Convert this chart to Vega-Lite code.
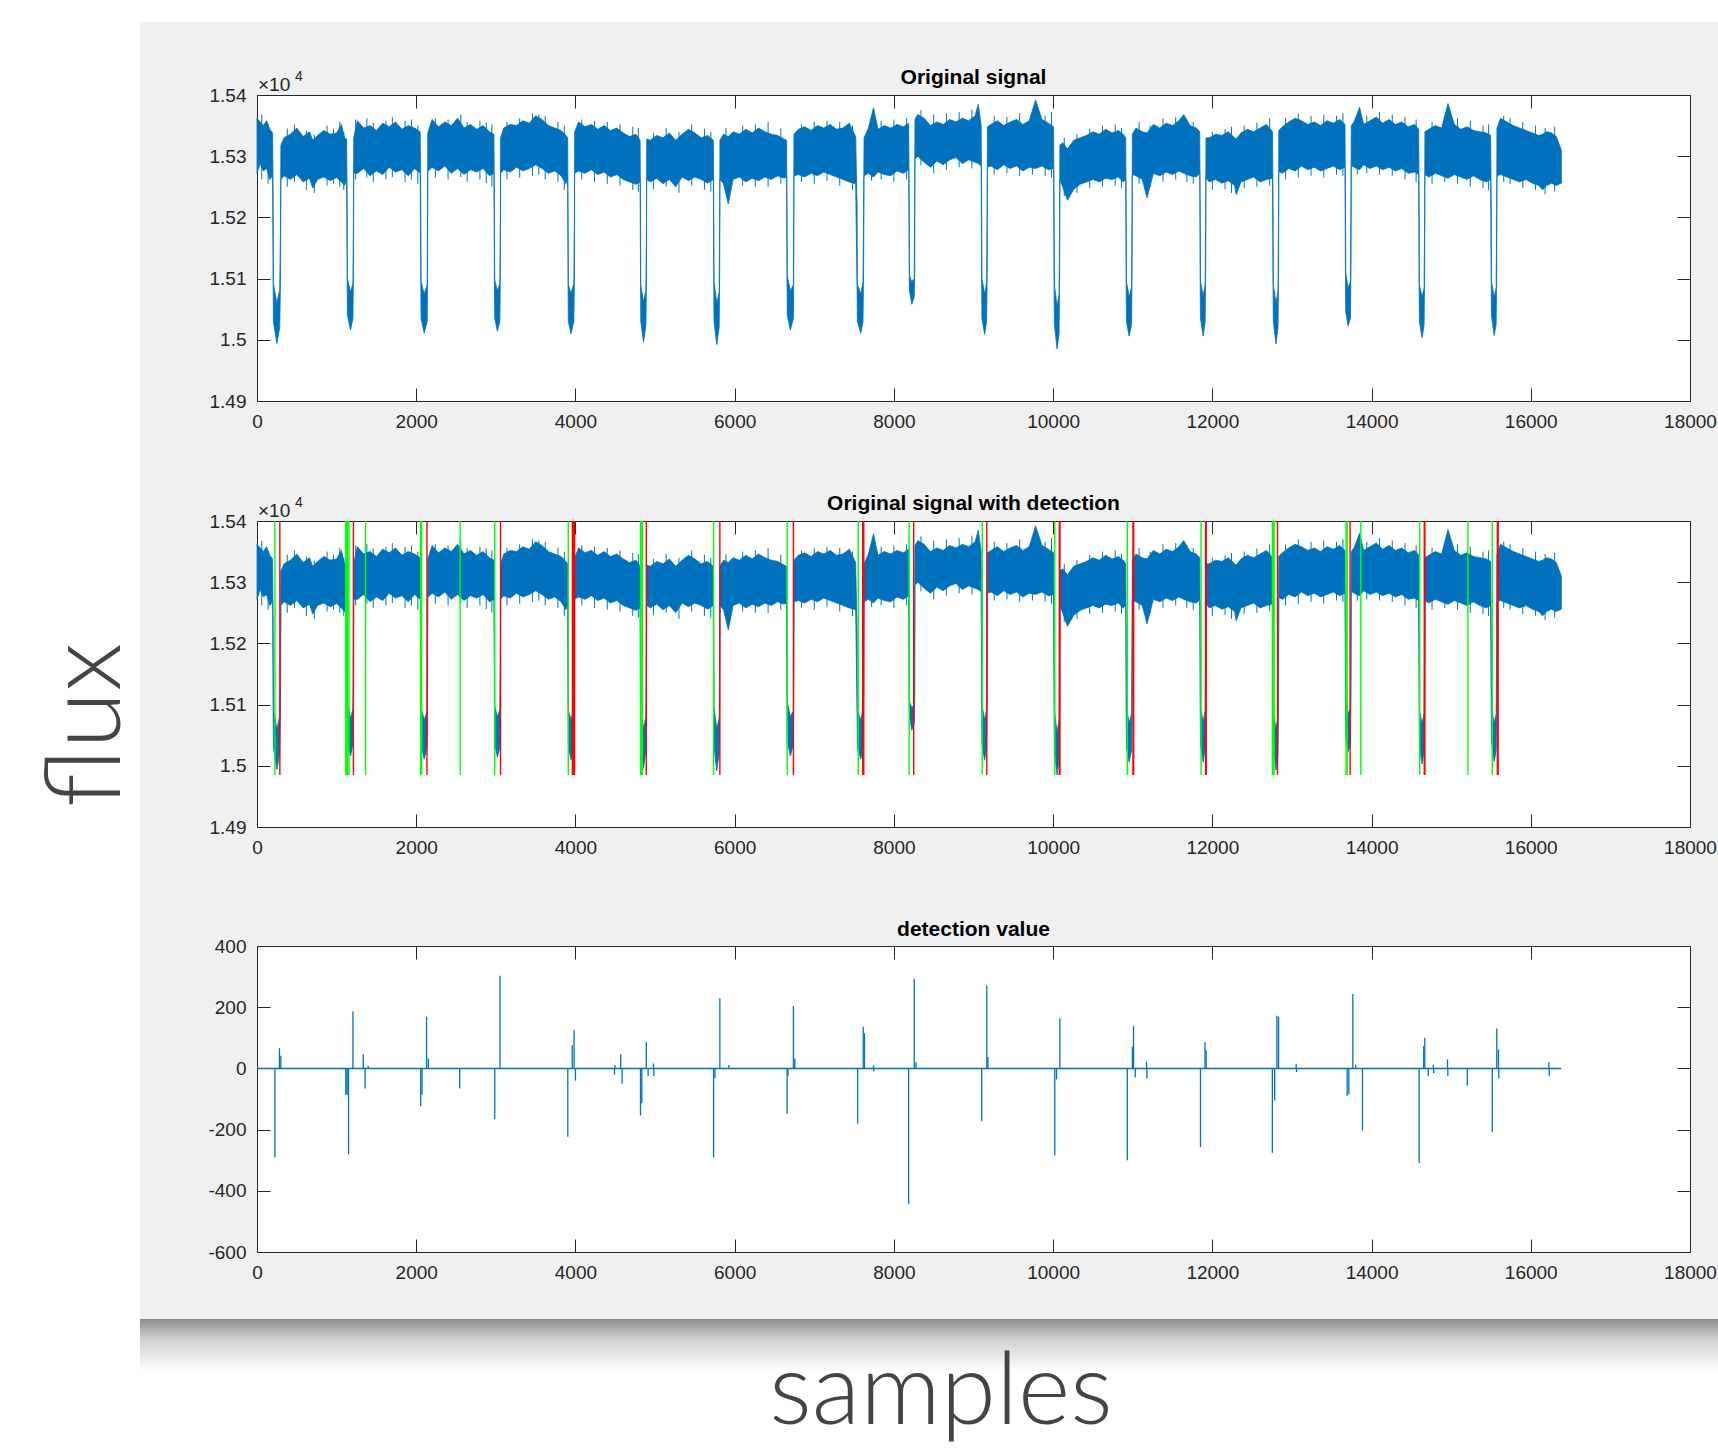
{
  "$schema": "https://vega.github.io/schema/vega-lite/v6.json",
  "background": "#f0f0f0",
  "padding": 0,
  "spacing": 0,
  "bounds": "flush",
  "config": {
    "view": {"stroke": null},
    "concat": {"spacing": 0},
    "axis": {"grid": false, "domain": false, "tickSize": -13, "tickColor": "#262626", "tickWidth": 1, "labelPadding": 24, "labelFontSize": 19, "labelFont": "Liberation Sans", "labelColor": "#262626", "labelFlush": false, "labelOverlap": false}
  },
  "datasets": {
    "sig": [
      {"x":0,"lo":15272,"hi":15362},{"x":40,"lo":15288,"hi":15356},{"x":80,"lo":15276,"hi":15350},{"x":120,"lo":15280,"hi":15358},{"x":160,"lo":15262,"hi":15344},{"x":196,"lo":15268,"hi":15338},
      {"x":203,"lo":15090,"hi":15225},{"x":206,"lo":15030,"hi":15092},{"x":250,"lo":14994,"hi":15060},{"x":285,"lo":15020,"hi":15082},{"x":295,"lo":15095,"hi":15185},{"x":300,"lo":15262,"hi":15318},
      {"x":340,"lo":15268,"hi":15330},{"x":420,"lo":15262,"hi":15336},{"x":500,"lo":15270,"hi":15346},{"x":580,"lo":15258,"hi":15332},{"x":660,"lo":15264,"hi":15340},{"x":700,"lo":15248,"hi":15326},{"x":760,"lo":15262,"hi":15334},{"x":840,"lo":15266,"hi":15342},{"x":920,"lo":15260,"hi":15336},{"x":1000,"lo":15265,"hi":15338},{"x":1060,"lo":15258,"hi":15352},{"x":1100,"lo":15252,"hi":15330},{"x":1126,"lo":15262,"hi":15328},
      {"x":1133,"lo":15085,"hi":15220},{"x":1136,"lo":15040,"hi":15100},{"x":1175,"lo":15016,"hi":15078},{"x":1205,"lo":15035,"hi":15092},{"x":1212,"lo":15120,"hi":15215},{"x":1215,"lo":15272,"hi":15330},
      {"x":1260,"lo":15272,"hi":15358},{"x":1340,"lo":15280,"hi":15346},{"x":1420,"lo":15268,"hi":15350},{"x":1500,"lo":15276,"hi":15342},{"x":1580,"lo":15270,"hi":15354},{"x":1660,"lo":15282,"hi":15348},{"x":1740,"lo":15274,"hi":15356},{"x":1820,"lo":15278,"hi":15344},{"x":1900,"lo":15268,"hi":15350},{"x":1980,"lo":15280,"hi":15346},{"x":2050,"lo":15272,"hi":15340},
      {"x":2058,"lo":15090,"hi":15215},{"x":2061,"lo":15035,"hi":15095},{"x":2100,"lo":15011,"hi":15075},{"x":2138,"lo":15030,"hi":15090},{"x":2142,"lo":15100,"hi":15205},{"x":2145,"lo":15275,"hi":15338},
      {"x":2200,"lo":15282,"hi":15360},{"x":2280,"lo":15276,"hi":15348},{"x":2360,"lo":15284,"hi":15356},{"x":2440,"lo":15272,"hi":15350},{"x":2520,"lo":15280,"hi":15362},{"x":2600,"lo":15270,"hi":15346},{"x":2680,"lo":15278,"hi":15352},{"x":2760,"lo":15274,"hi":15344},{"x":2840,"lo":15280,"hi":15350},{"x":2920,"lo":15268,"hi":15340},{"x":2976,"lo":15272,"hi":15336},
      {"x":2983,"lo":15088,"hi":15200},{"x":2986,"lo":15035,"hi":15098},{"x":3020,"lo":15014,"hi":15080},{"x":3050,"lo":15030,"hi":15092},{"x":3057,"lo":15110,"hi":15200},{"x":3060,"lo":15272,"hi":15330},
      {"x":3100,"lo":15278,"hi":15346},{"x":3180,"lo":15274,"hi":15352},{"x":3260,"lo":15282,"hi":15350},{"x":3340,"lo":15276,"hi":15358},{"x":3420,"lo":15280,"hi":15354},{"x":3500,"lo":15286,"hi":15366},{"x":3580,"lo":15280,"hi":15360},{"x":3660,"lo":15272,"hi":15350},{"x":3740,"lo":15276,"hi":15346},{"x":3820,"lo":15268,"hi":15342},{"x":3880,"lo":15255,"hi":15334},{"x":3902,"lo":15264,"hi":15330},
      {"x":3908,"lo":15080,"hi":15190},{"x":3911,"lo":15030,"hi":15090},{"x":3945,"lo":15010,"hi":15076},{"x":3980,"lo":15030,"hi":15092},{"x":3987,"lo":15100,"hi":15210},{"x":3990,"lo":15272,"hi":15340},
      {"x":4040,"lo":15276,"hi":15356},{"x":4120,"lo":15272,"hi":15348},{"x":4200,"lo":15278,"hi":15352},{"x":4280,"lo":15270,"hi":15344},{"x":4360,"lo":15274,"hi":15350},{"x":4440,"lo":15266,"hi":15342},{"x":4520,"lo":15270,"hi":15346},{"x":4600,"lo":15262,"hi":15338},{"x":4680,"lo":15258,"hi":15332},{"x":4760,"lo":15254,"hi":15336},{"x":4812,"lo":15258,"hi":15326},
      {"x":4818,"lo":15085,"hi":15210},{"x":4821,"lo":15030,"hi":15090},{"x":4855,"lo":14996,"hi":15062},{"x":4885,"lo":15025,"hi":15080},{"x":4892,"lo":15100,"hi":15180},{"x":4895,"lo":15262,"hi":15328},
      {"x":4940,"lo":15258,"hi":15326},{"x":5020,"lo":15264,"hi":15334},{"x":5100,"lo":15255,"hi":15330},{"x":5180,"lo":15262,"hi":15338},{"x":5260,"lo":15250,"hi":15326},{"x":5340,"lo":15266,"hi":15336},{"x":5420,"lo":15260,"hi":15344},{"x":5500,"lo":15266,"hi":15338},{"x":5580,"lo":15262,"hi":15330},{"x":5660,"lo":15256,"hi":15334},{"x":5732,"lo":15262,"hi":15326},
      {"x":5738,"lo":15080,"hi":15200},{"x":5741,"lo":15030,"hi":15095},{"x":5775,"lo":14992,"hi":15060},{"x":5805,"lo":15020,"hi":15078},{"x":5812,"lo":15110,"hi":15215},{"x":5815,"lo":15262,"hi":15326},
      {"x":5860,"lo":15255,"hi":15336},{"x":5920,"lo":15222,"hi":15332},{"x":5980,"lo":15262,"hi":15340},{"x":6060,"lo":15266,"hi":15336},{"x":6140,"lo":15258,"hi":15344},{"x":6220,"lo":15264,"hi":15338},{"x":6300,"lo":15260,"hi":15346},{"x":6380,"lo":15266,"hi":15340},{"x":6460,"lo":15262,"hi":15336},{"x":6540,"lo":15268,"hi":15334},{"x":6620,"lo":15264,"hi":15328},{"x":6652,"lo":15266,"hi":15326},
      {"x":6658,"lo":15090,"hi":15210},{"x":6661,"lo":15040,"hi":15105},{"x":6700,"lo":15016,"hi":15080},{"x":6738,"lo":15035,"hi":15090},{"x":6742,"lo":15110,"hi":15210},{"x":6745,"lo":15268,"hi":15336},
      {"x":6800,"lo":15270,"hi":15344},{"x":6880,"lo":15266,"hi":15348},{"x":6960,"lo":15272,"hi":15342},{"x":7040,"lo":15268,"hi":15350},{"x":7120,"lo":15274,"hi":15346},{"x":7200,"lo":15270,"hi":15352},{"x":7280,"lo":15266,"hi":15344},{"x":7360,"lo":15262,"hi":15346},{"x":7440,"lo":15258,"hi":15354},{"x":7520,"lo":15255,"hi":15332},
      {"x":7538,"lo":15080,"hi":15215},{"x":7541,"lo":15030,"hi":15090},{"x":7585,"lo":15011,"hi":15075},{"x":7612,"lo":15030,"hi":15095},{"x":7620,"lo":15120,"hi":15220},{"x":7625,"lo":15268,"hi":15330},
      {"x":7680,"lo":15272,"hi":15346},{"x":7744,"lo":15266,"hi":15379},{"x":7800,"lo":15274,"hi":15344},{"x":7880,"lo":15270,"hi":15350},{"x":7960,"lo":15268,"hi":15346},{"x":8040,"lo":15276,"hi":15352},{"x":8120,"lo":15272,"hi":15348},{"x":8186,"lo":15278,"hi":15354},
      {"x":8193,"lo":15100,"hi":15210},{"x":8196,"lo":15080,"hi":15105},{"x":8225,"lo":15058,"hi":15095},{"x":8255,"lo":15070,"hi":15100},{"x":8262,"lo":15110,"hi":15260},{"x":8265,"lo":15295,"hi":15360},
      {"x":8300,"lo":15300,"hi":15368},{"x":8380,"lo":15290,"hi":15362},{"x":8460,"lo":15282,"hi":15350},{"x":8540,"lo":15292,"hi":15356},{"x":8620,"lo":15286,"hi":15352},{"x":8700,"lo":15294,"hi":15360},{"x":8780,"lo":15298,"hi":15356},{"x":8860,"lo":15288,"hi":15362},{"x":8940,"lo":15294,"hi":15358},{"x":9020,"lo":15290,"hi":15366},{"x":9060,"lo":15288,"hi":15385},{"x":9096,"lo":15284,"hi":15350},
      {"x":9103,"lo":15085,"hi":15220},{"x":9106,"lo":15035,"hi":15100},{"x":9140,"lo":15009,"hi":15075},{"x":9165,"lo":15030,"hi":15092},{"x":9172,"lo":15110,"hi":15225},{"x":9175,"lo":15282,"hi":15348},
      {"x":9220,"lo":15284,"hi":15352},{"x":9300,"lo":15278,"hi":15358},{"x":9380,"lo":15286,"hi":15350},{"x":9460,"lo":15280,"hi":15356},{"x":9540,"lo":15284,"hi":15360},{"x":9620,"lo":15276,"hi":15352},{"x":9700,"lo":15282,"hi":15358},{"x":9780,"lo":15280,"hi":15392},{"x":9860,"lo":15284,"hi":15360},{"x":9940,"lo":15278,"hi":15354},{"x":10006,"lo":15280,"hi":15348},
      {"x":10013,"lo":15070,"hi":15200},{"x":10016,"lo":15025,"hi":15090},{"x":10050,"lo":14985,"hi":15055},{"x":10075,"lo":15010,"hi":15075},{"x":10082,"lo":15100,"hi":15210},{"x":10085,"lo":15262,"hi":15318},
      {"x":10120,"lo":15250,"hi":15322},{"x":10180,"lo":15228,"hi":15312},{"x":10260,"lo":15246,"hi":15326},{"x":10340,"lo":15254,"hi":15330},{"x":10420,"lo":15258,"hi":15334},{"x":10500,"lo":15262,"hi":15340},{"x":10580,"lo":15258,"hi":15336},{"x":10660,"lo":15264,"hi":15344},{"x":10740,"lo":15262,"hi":15338},{"x":10820,"lo":15266,"hi":15342},{"x":10880,"lo":15258,"hi":15336},{"x":10912,"lo":15262,"hi":15330},
      {"x":10918,"lo":15080,"hi":15210},{"x":10921,"lo":15030,"hi":15095},{"x":10955,"lo":15006,"hi":15070},{"x":10985,"lo":15025,"hi":15085},{"x":10992,"lo":15110,"hi":15215},{"x":10995,"lo":15270,"hi":15336},
      {"x":11040,"lo":15268,"hi":15346},{"x":11120,"lo":15262,"hi":15340},{"x":11180,"lo":15232,"hi":15338},{"x":11260,"lo":15272,"hi":15352},{"x":11340,"lo":15268,"hi":15346},{"x":11420,"lo":15274,"hi":15354},{"x":11500,"lo":15270,"hi":15350},{"x":11580,"lo":15276,"hi":15358},{"x":11640,"lo":15272,"hi":15368},{"x":11720,"lo":15268,"hi":15350},{"x":11800,"lo":15266,"hi":15346},{"x":11842,"lo":15272,"hi":15340},
      {"x":11848,"lo":15085,"hi":15200},{"x":11851,"lo":15035,"hi":15095},{"x":11885,"lo":15006,"hi":15072},{"x":11910,"lo":15030,"hi":15090},{"x":11917,"lo":15120,"hi":15225},{"x":11920,"lo":15265,"hi":15330},
      {"x":11960,"lo":15258,"hi":15330},{"x":12040,"lo":15262,"hi":15336},{"x":12120,"lo":15256,"hi":15334},{"x":12200,"lo":15260,"hi":15340},{"x":12280,"lo":15252,"hi":15330},{"x":12300,"lo":15237,"hi":15328},{"x":12360,"lo":15258,"hi":15338},{"x":12440,"lo":15262,"hi":15344},{"x":12520,"lo":15266,"hi":15340},{"x":12600,"lo":15258,"hi":15346},{"x":12680,"lo":15262,"hi":15352},{"x":12756,"lo":15264,"hi":15340},
      {"x":12763,"lo":15080,"hi":15210},{"x":12766,"lo":15030,"hi":15090},{"x":12800,"lo":14993,"hi":15060},{"x":12825,"lo":15020,"hi":15080},{"x":12832,"lo":15110,"hi":15220},{"x":12835,"lo":15275,"hi":15342},
      {"x":12880,"lo":15272,"hi":15348},{"x":12960,"lo":15280,"hi":15356},{"x":13040,"lo":15276,"hi":15362},{"x":13120,"lo":15284,"hi":15358},{"x":13200,"lo":15278,"hi":15352},{"x":13280,"lo":15282,"hi":15356},{"x":13360,"lo":15276,"hi":15350},{"x":13440,"lo":15280,"hi":15358},{"x":13520,"lo":15284,"hi":15354},{"x":13600,"lo":15278,"hi":15360},{"x":13666,"lo":15282,"hi":15352},
      {"x":13673,"lo":15090,"hi":15215},{"x":13676,"lo":15045,"hi":15110},{"x":13705,"lo":15023,"hi":15085},{"x":13735,"lo":15035,"hi":15095},{"x":13742,"lo":15120,"hi":15240},{"x":13745,"lo":15285,"hi":15350},
      {"x":13780,"lo":15282,"hi":15356},{"x":13850,"lo":15278,"hi":15380},{"x":13900,"lo":15286,"hi":15352},{"x":13980,"lo":15280,"hi":15358},{"x":14060,"lo":15284,"hi":15364},{"x":14140,"lo":15278,"hi":15354},{"x":14220,"lo":15282,"hi":15360},{"x":14300,"lo":15276,"hi":15352},{"x":14380,"lo":15280,"hi":15356},{"x":14460,"lo":15272,"hi":15348},{"x":14540,"lo":15274,"hi":15352},{"x":14592,"lo":15270,"hi":15344},
      {"x":14598,"lo":15080,"hi":15210},{"x":14601,"lo":15030,"hi":15090},{"x":14635,"lo":15003,"hi":15070},{"x":14660,"lo":15025,"hi":15085},{"x":14667,"lo":15110,"hi":15210},{"x":14670,"lo":15270,"hi":15340},
      {"x":14720,"lo":15266,"hi":15344},{"x":14800,"lo":15272,"hi":15350},{"x":14880,"lo":15268,"hi":15346},{"x":14960,"lo":15264,"hi":15386},{"x":15040,"lo":15270,"hi":15352},{"x":15120,"lo":15266,"hi":15344},{"x":15200,"lo":15262,"hi":15348},{"x":15280,"lo":15268,"hi":15342},{"x":15360,"lo":15262,"hi":15340},{"x":15440,"lo":15258,"hi":15338},{"x":15496,"lo":15262,"hi":15334},
      {"x":15503,"lo":15100,"hi":15220},{"x":15506,"lo":15040,"hi":15095},{"x":15540,"lo":15007,"hi":15070},{"x":15565,"lo":15025,"hi":15085},{"x":15572,"lo":15110,"hi":15215},{"x":15575,"lo":15268,"hi":15346},
      {"x":15620,"lo":15270,"hi":15362},{"x":15700,"lo":15266,"hi":15356},{"x":15780,"lo":15262,"hi":15350},{"x":15860,"lo":15258,"hi":15346},{"x":15940,"lo":15262,"hi":15342},{"x":16020,"lo":15256,"hi":15338},{"x":16100,"lo":15252,"hi":15334},{"x":16150,"lo":15245,"hi":15336},{"x":16200,"lo":15252,"hi":15340},{"x":16260,"lo":15256,"hi":15338},{"x":16320,"lo":15252,"hi":15332},{"x":16384,"lo":15256,"hi":15310}
    ],
    "ndl": [
      {"x":60,"lo":15262,"hi":15368},{"x":140,"lo":15255,"hi":15352},
      {"x":380,"lo":15250,"hi":15345},{"x":470,"lo":15258,"hi":15352},{"x":620,"lo":15245,"hi":15342},{"x":720,"lo":15240,"hi":15335},{"x":880,"lo":15252,"hi":15350},{"x":960,"lo":15255,"hi":15345},{"x":1040,"lo":15250,"hi":15356},{"x":1090,"lo":15245,"hi":15340},
      {"x":1240,"lo":15262,"hi":15360},{"x":1380,"lo":15265,"hi":15362},{"x":1460,"lo":15258,"hi":15355},{"x":1620,"lo":15262,"hi":15358},{"x":1700,"lo":15266,"hi":15364},{"x":1860,"lo":15258,"hi":15358},{"x":1940,"lo":15262,"hi":15360},{"x":2020,"lo":15255,"hi":15350},
      {"x":2240,"lo":15265,"hi":15362},{"x":2400,"lo":15262,"hi":15360},{"x":2560,"lo":15266,"hi":15368},{"x":2640,"lo":15258,"hi":15356},{"x":2800,"lo":15262,"hi":15358},{"x":2880,"lo":15256,"hi":15355},{"x":2950,"lo":15250,"hi":15352},
      {"x":3140,"lo":15262,"hi":15356},{"x":3300,"lo":15265,"hi":15362},{"x":3460,"lo":15268,"hi":15370},{"x":3540,"lo":15270,"hi":15368},{"x":3620,"lo":15262,"hi":15366},{"x":3780,"lo":15258,"hi":15356},{"x":3860,"lo":15245,"hi":15350},
      {"x":4080,"lo":15262,"hi":15360},{"x":4240,"lo":15258,"hi":15358},{"x":4400,"lo":15255,"hi":15356},{"x":4560,"lo":15252,"hi":15352},{"x":4720,"lo":15245,"hi":15348},{"x":4790,"lo":15242,"hi":15346},
      {"x":4980,"lo":15246,"hi":15338},{"x":5140,"lo":15250,"hi":15346},{"x":5300,"lo":15240,"hi":15340},{"x":5460,"lo":15252,"hi":15352},{"x":5620,"lo":15245,"hi":15345},{"x":5700,"lo":15242,"hi":15340},
      {"x":5890,"lo":15245,"hi":15346},{"x":6100,"lo":15252,"hi":15350},{"x":6260,"lo":15250,"hi":15352},{"x":6420,"lo":15250,"hi":15356},{"x":6580,"lo":15255,"hi":15345},
      {"x":6840,"lo":15258,"hi":15352},{"x":7000,"lo":15255,"hi":15356},{"x":7160,"lo":15260,"hi":15358},{"x":7320,"lo":15252,"hi":15356},{"x":7480,"lo":15245,"hi":15350},
      {"x":7720,"lo":15260,"hi":15356},{"x":7840,"lo":15262,"hi":15358},{"x":8000,"lo":15258,"hi":15360},{"x":8160,"lo":15262,"hi":15362},
      {"x":8340,"lo":15285,"hi":15375},{"x":8500,"lo":15272,"hi":15368},{"x":8660,"lo":15278,"hi":15370},{"x":8820,"lo":15282,"hi":15372},{"x":8980,"lo":15280,"hi":15376},
      {"x":9260,"lo":15270,"hi":15366},{"x":9420,"lo":15272,"hi":15364},{"x":9580,"lo":15268,"hi":15370},{"x":9740,"lo":15270,"hi":15368},{"x":9900,"lo":15268,"hi":15366},{"x":9980,"lo":15265,"hi":15372},
      {"x":10140,"lo":15235,"hi":15330},{"x":10300,"lo":15240,"hi":15336},{"x":10460,"lo":15248,"hi":15345},{"x":10620,"lo":15250,"hi":15350},{"x":10780,"lo":15252,"hi":15352},{"x":10860,"lo":15248,"hi":15346},
      {"x":11080,"lo":15255,"hi":15356},{"x":11220,"lo":15250,"hi":15350},{"x":11380,"lo":15258,"hi":15362},{"x":11540,"lo":15262,"hi":15364},{"x":11680,"lo":15258,"hi":15360},{"x":11760,"lo":15255,"hi":15356},
      {"x":12000,"lo":15245,"hi":15340},{"x":12160,"lo":15246,"hi":15344},{"x":12240,"lo":15240,"hi":15348},{"x":12400,"lo":15248,"hi":15350},{"x":12560,"lo":15250,"hi":15355},{"x":12720,"lo":15252,"hi":15362},
      {"x":12920,"lo":15262,"hi":15362},{"x":13080,"lo":15265,"hi":15370},{"x":13240,"lo":15268,"hi":15366},{"x":13400,"lo":15265,"hi":15368},{"x":13560,"lo":15270,"hi":15366},{"x":13640,"lo":15268,"hi":15370},
      {"x":13820,"lo":15270,"hi":15368},{"x":13940,"lo":15272,"hi":15366},{"x":14100,"lo":15270,"hi":15372},{"x":14260,"lo":15268,"hi":15368},{"x":14420,"lo":15262,"hi":15364},{"x":14560,"lo":15258,"hi":15360},
      {"x":14760,"lo":15255,"hi":15356},{"x":14920,"lo":15258,"hi":15360},{"x":15080,"lo":15255,"hi":15362},{"x":15240,"lo":15250,"hi":15358},{"x":15400,"lo":15248,"hi":15350},{"x":15470,"lo":15245,"hi":15352},
      {"x":15660,"lo":15258,"hi":15366},{"x":15740,"lo":15255,"hi":15362},{"x":15900,"lo":15248,"hi":15356},{"x":16060,"lo":15245,"hi":15350},{"x":16180,"lo":15238,"hi":15346},{"x":16300,"lo":15242,"hi":15348}
    ],
    "det": [
      {"x":225,"k":"start"},{"x":1115,"k":"start"},{"x":1128,"k":"start"},{"x":1140,"k":"start"},{"x":1155,"k":"start"},{"x":1363,"k":"start"},{"x":2056,"k":"start"},{"x":2068,"k":"start"},{"x":2552,"k":"start"},{"x":2986,"k":"start"},{"x":3910,"k":"start"},{"x":4817,"k":"start"},{"x":4828,"k":"start"},{"x":4839,"k":"start"},{"x":5735,"k":"start"},{"x":6659,"k":"start"},{"x":7552,"k":"start"},{"x":8192,"k":"start"},{"x":9110,"k":"start"},{"x":10021,"k":"start"},{"x":10932,"k":"start"},{"x":11858,"k":"start"},{"x":12754,"k":"start"},{"x":12765,"k":"start"},{"x":12776,"k":"start"},{"x":13680,"k":"start"},{"x":13694,"k":"start"},{"x":13865,"k":"start"},{"x":14605,"k":"start"},{"x":15210,"k":"start"},{"x":15516,"k":"start"},
      {"x":287,"k":"end"},{"x":1211,"k":"end"},{"x":2135,"k":"end"},{"x":3059,"k":"end"},{"x":3962,"k":"end"},{"x":3975,"k":"end"},{"x":3989,"k":"end"},{"x":4890,"k":"end"},{"x":5814,"k":"end"},{"x":6738,"k":"end"},{"x":7608,"k":"end"},{"x":7622,"k":"end"},{"x":8249,"k":"end"},{"x":9167,"k":"end"},{"x":10078,"k":"end"},{"x":10086,"k":"end"},{"x":11003,"k":"end"},{"x":11012,"k":"end"},{"x":11915,"k":"end"},{"x":11923,"k":"end"},{"x":12819,"k":"end"},{"x":13730,"k":"end"},{"x":14662,"k":"end"},{"x":14670,"k":"end"},{"x":15580,"k":"end"},{"x":15590,"k":"end"}
    ],
    "spk": [
      {"x":225,"v":-291},{"x":282,"v":66},{"x":300,"v":41},{"x":1115,"v":-86},{"x":1130,"v":-86},{"x":1145,"v":-86},{"x":1150,"v":-281},{"x":1205,"v":186},{"x":1335,"v":46},{"x":1358,"v":-66},{"x":1397,"v":8},
      {"x":2056,"v":-124},{"x":2073,"v":-86},{"x":2130,"v":169},{"x":2152,"v":32},{"x":2546,"v":-66},{"x":2986,"v":-165},{"x":3053,"v":303},
      {"x":3904,"v":-223},{"x":3960,"v":76},{"x":3983,"v":125},{"x":4000,"v":-40},{"x":4490,"v":-20},{"x":4496,"v":11},{"x":4569,"v":46},{"x":4586,"v":-50},
      {"x":4817,"v":-154},{"x":4834,"v":-114},{"x":4890,"v":87},{"x":4913,"v":-25},{"x":4980,"v":16},{"x":4985,"v":-25},
      {"x":5735,"v":-291},{"x":5752,"v":-31},{"x":5814,"v":229},{"x":5927,"v":11},{"x":6659,"v":-148},{"x":6670,"v":-25},{"x":6738,"v":204},{"x":6755,"v":32},
      {"x":7545,"v":-181},{"x":7615,"v":136},{"x":7630,"v":115},{"x":7744,"v":10},{"x":7748,"v":-10},{"x":8185,"v":-443},{"x":8256,"v":292},{"x":8278,"v":20},
      {"x":9103,"v":-173},{"x":9167,"v":272},{"x":9181,"v":37},{"x":10021,"v":-285},{"x":10043,"v":-36},{"x":10085,"v":164},
      {"x":10932,"v":-300},{"x":10996,"v":71},{"x":11010,"v":139},{"x":11032,"v":-30},{"x":11174,"v":22},{"x":11178,"v":-33},
      {"x":11851,"v":-257},{"x":11908,"v":86},{"x":11922,"v":59},{"x":12754,"v":-276},{"x":12783,"v":-105},{"x":12811,"v":172},{"x":12832,"v":169},{"x":13053,"v":15},{"x":13058,"v":-12},
      {"x":13694,"v":-89},{"x":13715,"v":-85},{"x":13765,"v":243},{"x":13800,"v":12},{"x":13886,"v":-203},
      {"x":14598,"v":-309},{"x":14655,"v":73},{"x":14669,"v":100},{"x":14712,"v":-25},{"x":14776,"v":12},{"x":14780,"v":-15},{"x":14954,"v":29},{"x":14958,"v":-25},{"x":15203,"v":-56},
      {"x":15516,"v":-208},{"x":15573,"v":130},{"x":15594,"v":62},{"x":15598,"v":-33},{"x":16227,"v":20},{"x":16232,"v":-25}
    ]
  },
  "hconcat": [
    {
      "width": 140, "height": 1450,
      "view": {"fill": "#ffffff", "stroke": null},
      "data": {"values": [{"t": "flux"}]},
      "mark": {"type": "text", "font": "Lato", "fontSize": 104, "fontWeight": 300, "color": "#444444", "angle": 270, "align": "center", "baseline": "alphabetic", "dy": 50},
      "encoding": {"text": {"field": "t"}}
    },
    {
      "spacing": 0,
      "vconcat": [
        {"width": 1578, "height": 22, "view": {"fill": "#ffffff", "stroke": null}, "data": {"values": []}, "mark": "point"},
        {"width": 10, "height": 44, "data": {"values": []}, "mark": "point"},
        {
          "spacing": 0,
          "hconcat": [
            {"width": 67, "height": 10, "data": {"values": []}, "mark": "point"},
            {
              "spacing": 60,
              "vconcat": [
                {
                  "width": 1433, "height": 306,
                  "view": {"fill": "#ffffff", "stroke": "#262626", "strokeWidth": 1},
                  "title": {"text": "Original signal", "fontSize": 21, "fontWeight": "bold", "font": "Liberation Sans", "color": "#000000", "anchor": "middle", "frame": "group", "baseline": "alphabetic", "offset": -35},
                  "resolve": {"axis": {"x": "independent", "y": "independent"}},
                  "layer": [
                    {
                      "data": {"name": "sig"},
                      "mark": {"type": "area", "color": "#0072BD", "stroke": "#0072BD", "strokeWidth": 0.8},
                      "encoding": {
                        "x": {"field": "x", "type": "quantitative", "scale": {"domain": [0, 18000], "nice": false, "zero": false}, "axis": {"orient": "bottom", "title": null, "values": [0,2000,4000,6000,8000,10000,12000,14000,16000,18000], "format": "d"}},
                        "y": {"field": "lo", "type": "quantitative", "scale": {"domain": [14900, 15400], "nice": false, "zero": false}, "axis": {"orient": "left", "title": null, "values": [14900,15000,15100,15200,15300,15400], "labelExpr": "format(datum.value/10000, '.2~f')"}},
                        "y2": {"field": "hi"}
                      }
                    },
                    {
                      "data": {"name": "ndl"},
                      "mark": {"type": "rule", "color": "#0072BD", "strokeWidth": 1},
                      "encoding": {
                        "x": {"field": "x", "type": "quantitative", "axis": null},
                        "y": {"field": "lo", "type": "quantitative", "axis": null},
                        "y2": {"field": "hi"}
                      }
                    },
                    {
                      "data": {"values": [{}]},
                      "mark": {"type": "text", "text": "×10", "align": "left", "baseline": "alphabetic", "fontSize": 19, "font": "Liberation Sans", "color": "#262626", "dx": 1, "dy": -4},
                      "encoding": {"x": {"datum": 0, "type": "quantitative", "axis": null}, "y": {"datum": 15400, "type": "quantitative", "axis": null}}
                    },
                    {
                      "data": {"values": [{}]},
                      "mark": {"type": "text", "text": "4", "align": "left", "baseline": "alphabetic", "fontSize": 14, "font": "Liberation Sans", "color": "#262626", "dx": 38, "dy": -14},
                      "encoding": {"x": {"datum": 0, "type": "quantitative", "axis": null}, "y": {"datum": 15400, "type": "quantitative", "axis": null}}
                    },
                    {
                      "data": {"values": [{}]},
                      "mark": {"type": "point", "opacity": 0},
                      "encoding": {
                        "x": {"datum": 0, "type": "quantitative", "axis": {"orient": "top", "title": null, "labels": false, "values": [0,2000,4000,6000,8000,10000,12000,14000,16000,18000]}},
                        "y": {"datum": 15400, "type": "quantitative", "axis": {"orient": "right", "title": null, "labels": false, "values": [14900,15000,15100,15200,15300,15400]}}
                      }
                    }
                  ]
                },
                {
                  "width": 1433, "height": 306,
                  "view": {"fill": "#ffffff", "stroke": "#262626", "strokeWidth": 1},
                  "title": {"text": "Original signal with detection", "fontSize": 21, "fontWeight": "bold", "font": "Liberation Sans", "color": "#000000", "anchor": "middle", "frame": "group", "baseline": "alphabetic", "offset": -35},
                  "resolve": {"axis": {"x": "independent", "y": "independent"}},
                  "layer": [
                    {
                      "data": {"name": "sig"},
                      "mark": {"type": "area", "color": "#0072BD", "stroke": "#0072BD", "strokeWidth": 0.8},
                      "encoding": {
                        "x": {"field": "x", "type": "quantitative", "scale": {"domain": [0, 18000], "nice": false, "zero": false}, "axis": {"orient": "bottom", "title": null, "values": [0,2000,4000,6000,8000,10000,12000,14000,16000,18000], "format": "d"}},
                        "y": {"field": "lo", "type": "quantitative", "scale": {"domain": [14900, 15400], "nice": false, "zero": false}, "axis": {"orient": "left", "title": null, "values": [14900,15000,15100,15200,15300,15400], "labelExpr": "format(datum.value/10000, '.2~f')"}},
                        "y2": {"field": "hi"}
                      }
                    },
                    {
                      "data": {"name": "ndl"},
                      "mark": {"type": "rule", "color": "#0072BD", "strokeWidth": 1},
                      "encoding": {
                        "x": {"field": "x", "type": "quantitative", "axis": null},
                        "y": {"field": "lo", "type": "quantitative", "axis": null},
                        "y2": {"field": "hi"}
                      }
                    },
                    {
                      "data": {"name": "det"},
                      "mark": {"type": "rule", "strokeWidth": 1.4},
                      "encoding": {
                        "x": {"field": "x", "type": "quantitative", "axis": null},
                        "y": {"datum": 14985, "type": "quantitative", "axis": null},
                        "y2": {"datum": 15400},
                        "color": {"field": "k", "type": "nominal", "scale": {"domain": ["start", "end"], "range": ["#00ff00", "#ff0000"]}, "legend": null}
                      }
                    },
                    {
                      "data": {"values": [{}]},
                      "mark": {"type": "text", "text": "×10", "align": "left", "baseline": "alphabetic", "fontSize": 19, "font": "Liberation Sans", "color": "#262626", "dx": 1, "dy": -4},
                      "encoding": {"x": {"datum": 0, "type": "quantitative", "axis": null}, "y": {"datum": 15400, "type": "quantitative", "axis": null}}
                    },
                    {
                      "data": {"values": [{}]},
                      "mark": {"type": "text", "text": "4", "align": "left", "baseline": "alphabetic", "fontSize": 14, "font": "Liberation Sans", "color": "#262626", "dx": 38, "dy": -14},
                      "encoding": {"x": {"datum": 0, "type": "quantitative", "axis": null}, "y": {"datum": 15400, "type": "quantitative", "axis": null}}
                    },
                    {
                      "data": {"values": [{}]},
                      "mark": {"type": "point", "opacity": 0},
                      "encoding": {
                        "x": {"datum": 0, "type": "quantitative", "axis": {"orient": "top", "title": null, "labels": false, "values": [0,2000,4000,6000,8000,10000,12000,14000,16000,18000]}},
                        "y": {"datum": 15400, "type": "quantitative", "axis": {"orient": "right", "title": null, "labels": false, "values": [14900,15000,15100,15200,15300,15400]}}
                      }
                    }
                  ]
                },
                {
                  "width": 1433, "height": 306,
                  "view": {"fill": "#ffffff", "stroke": "#262626", "strokeWidth": 1},
                  "title": {"text": "detection value", "fontSize": 21, "fontWeight": "bold", "font": "Liberation Sans", "color": "#000000", "anchor": "middle", "frame": "group", "baseline": "alphabetic", "offset": -20},
                  "resolve": {"axis": {"x": "independent", "y": "independent"}},
                  "layer": [
                    {
                      "data": {"name": "spk"},
                      "mark": {"type": "rule", "color": "#0072BD", "strokeWidth": 1.3},
                      "encoding": {
                        "x": {"field": "x", "type": "quantitative", "scale": {"domain": [0, 18000], "nice": false, "zero": false}, "axis": {"orient": "bottom", "title": null, "values": [0,2000,4000,6000,8000,10000,12000,14000,16000,18000], "format": "d"}},
                        "y": {"field": "v", "type": "quantitative", "scale": {"domain": [-600, 400], "nice": false}, "axis": {"orient": "left", "title": null, "values": [-600,-400,-200,0,200,400], "labelExpr": "'' + datum.value"}},
                        "y2": {"datum": 0}
                      }
                    },
                    {
                      "data": {"values": [{}]},
                      "mark": {"type": "rule", "color": "#0072BD", "strokeWidth": 1.5},
                      "encoding": {
                        "x": {"datum": 0, "type": "quantitative", "axis": null},
                        "x2": {"datum": 16384},
                        "y": {"datum": 0, "type": "quantitative", "axis": null}
                      }
                    },
                    {
                      "data": {"values": [{}]},
                      "mark": {"type": "point", "opacity": 0},
                      "encoding": {
                        "x": {"datum": 0, "type": "quantitative", "axis": {"orient": "top", "title": null, "labels": false, "values": [0,2000,4000,6000,8000,10000,12000,14000,16000,18000]}},
                        "y": {"datum": 0, "type": "quantitative", "axis": {"orient": "right", "title": null, "labels": false, "values": [-600,-400,-200,0,200,400]}}
                      }
                    }
                  ]
                }
              ]
            }
          ]
        },
        {"width": 10, "height": 36, "data": {"values": []}, "mark": "point"},
        {
          "width": 1578, "height": 132,
          "view": {"stroke": null, "fill": {"gradient": "linear", "x1": 0, "y1": 0, "x2": 0, "y2": 1, "stops": [{"offset": 0, "color": "#8c8c8c"}, {"offset": 0.15, "color": "#cfcfcf"}, {"offset": 0.4, "color": "#ffffff"}, {"offset": 1, "color": "#ffffff"}]}},
          "data": {"values": [{"t": "samples"}]},
          "mark": {"type": "text", "font": "Lato", "fontSize": 100, "fontWeight": 300, "color": "#444444", "align": "center", "baseline": "alphabetic", "dx": 12, "dy": 39},
          "encoding": {"text": {"field": "t"}}
        }
      ]
    }
  ]
}
